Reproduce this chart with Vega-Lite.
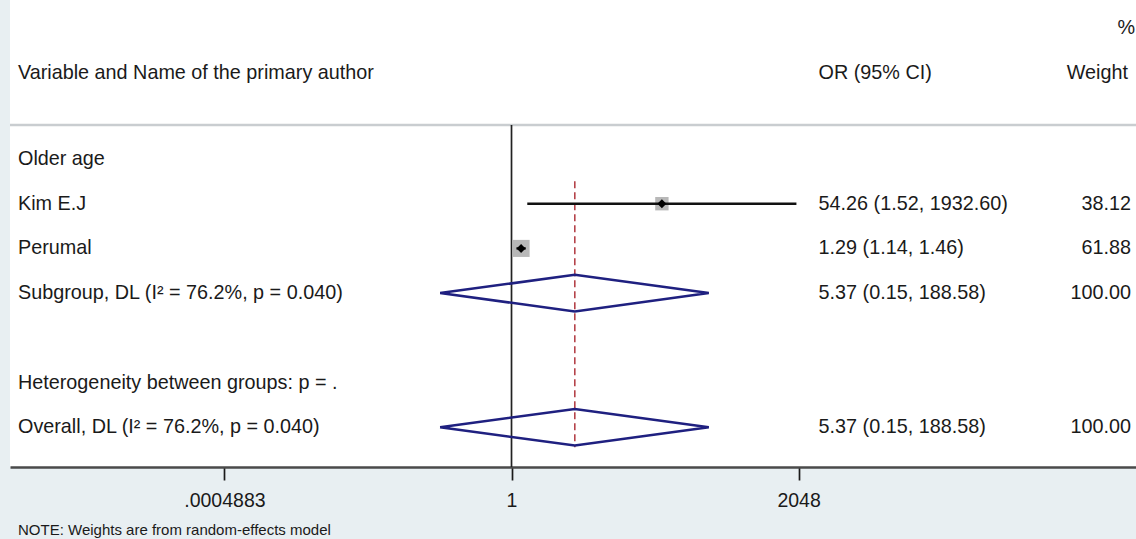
{
  "$schema": "https://vega.github.io/schema/vega-lite/v6.json",
  "width": 1126,
  "height": 467,
  "autosize": {"type": "none"},
  "padding": {"left": 10, "top": 0, "right": 0, "bottom": 72},
  "background": "#e8eff2",
  "config": {
    "view": {"fill": "white", "stroke": null},
    "font": "Liberation Sans",
    "text": {"font": "Liberation Sans", "fontSize": 19.8, "color": "#1a1a1a", "baseline": "middle"}
  },
  "title": {
    "text": "NOTE: Weights are from random-effects model",
    "orient": "bottom",
    "anchor": "start",
    "frame": "group",
    "font": "Liberation Sans",
    "fontSize": 15,
    "fontWeight": "normal",
    "color": "#1a1a1a",
    "dx": 8,
    "offset": 13
  },
  "datasets": {
    "rows": [
      {"row": 1, "label": "Older age"},
      {"row": 2, "label": "Kim E.J", "kind": "study", "or": 54.26, "lo": 1.52, "hi": 1932.60, "ci": "54.26 (1.52, 1932.60)", "weight": 38.12, "wtext": "38.12"},
      {"row": 3, "label": "Perumal", "kind": "study", "or": 1.29, "lo": 1.14, "hi": 1.46, "ci": "1.29 (1.14, 1.46)", "weight": 61.88, "wtext": "61.88"},
      {"row": 4, "label": "Subgroup, DL (I² = 76.2%, p = 0.040)", "kind": "subgroup", "or": 5.37, "lo": 0.15, "hi": 188.58, "ci": "5.37 (0.15, 188.58)", "weight": 100, "wtext": "100.00"},
      {"row": 6, "label": "Heterogeneity between groups: p = ."},
      {"row": 7, "label": "Overall, DL (I² = 76.2%, p = 0.040)", "kind": "overall", "or": 5.37, "lo": 0.15, "hi": 188.58, "ci": "5.37 (0.15, 188.58)", "weight": 100, "wtext": "100.00"}
    ],
    "header": [
      {"row": -1, "col": "label", "text": "Variable and Name of the primary author"},
      {"row": -1, "col": "ci", "text": "OR (95% CI)"},
      {"row": -1, "col": "weight", "text": "Weight"},
      {"row": -2, "col": "pct", "text": "%"}
    ],
    "diamonds": [
      {"grp": "Subgroup", "ord": 1, "x": 0.15, "row": 4},
      {"grp": "Subgroup", "ord": 2, "x": 5.37, "row": 3.59},
      {"grp": "Subgroup", "ord": 3, "x": 188.58, "row": 4},
      {"grp": "Subgroup", "ord": 4, "x": 5.37, "row": 4.41},
      {"grp": "Subgroup", "ord": 5, "x": 0.15, "row": 4},
      {"grp": "Overall", "ord": 1, "x": 0.15, "row": 7},
      {"grp": "Overall", "ord": 2, "x": 5.37, "row": 6.59},
      {"grp": "Overall", "ord": 3, "x": 188.58, "row": 7},
      {"grp": "Overall", "ord": 4, "x": 5.37, "row": 7.41},
      {"grp": "Overall", "ord": 5, "x": 0.15, "row": 7}
    ]
  },
  "layer": [
    {
      "data": {"values": [{}]},
      "mark": {"type": "rule", "stroke": "#c9cdd0", "strokeWidth": 2.5},
      "encoding": {
        "y": {"datum": 0.24, "type": "quantitative", "scale": {"domain": [-2.557, 7.89], "reverse": true, "zero": false, "nice": false}, "axis": null}
      }
    },
    {
      "data": {"values": [{}]},
      "mark": {"type": "rule", "stroke": "#222222", "strokeWidth": 1.7},
      "encoding": {
        "x": {
          "datum": 1,
          "type": "quantitative",
          "scale": {"type": "log", "base": 2, "domain": [1.6431e-6, 1.595e7], "nice": false},
          "axis": {
            "values": [0.00048828125, 1, 2048],
            "labelExpr": "replace(format(datum.value, '.7~f'), '0.', '.')",
            "title": null,
            "grid": false,
            "domainColor": "#4a4a4a",
            "domainWidth": 2.5,
            "tickColor": "#1a1a1a",
            "tickWidth": 1.7,
            "tickSize": 13,
            "labelFont": "Liberation Sans",
            "labelFontSize": 19.5,
            "labelColor": "#1a1a1a",
            "labelPadding": 11,
            "labelFlush": false,
            "labelOverlap": false
          }
        },
        "y": {"datum": 0.24, "type": "quantitative"},
        "y2": {"datum": 7.89}
      }
    },
    {
      "data": {"name": "rows"},
      "transform": [{"filter": "datum.kind === 'overall'"}],
      "mark": {"type": "rule", "stroke": "#b5434a", "strokeWidth": 1.6, "strokeDash": [7, 4]},
      "encoding": {
        "x": {"field": "or", "type": "quantitative"},
        "y": {"datum": 1.5, "type": "quantitative"},
        "y2": {"datum": 7.45}
      }
    },
    {
      "data": {"name": "rows"},
      "transform": [{"filter": "datum.kind === 'study'"}],
      "mark": {"type": "point", "shape": "square", "filled": true, "color": "#b8b8b8", "opacity": 1},
      "encoding": {
        "x": {"field": "or", "type": "quantitative"},
        "y": {"field": "row", "type": "quantitative"},
        "size": {"field": "weight", "type": "quantitative", "scale": {"domain": [0, 100], "range": [0, 470]}, "legend": null}
      }
    },
    {
      "data": {"name": "rows"},
      "transform": [{"filter": "datum.kind === 'study'"}],
      "mark": {"type": "rule", "stroke": "#111111", "strokeWidth": 2.4},
      "encoding": {
        "x": {"field": "lo", "type": "quantitative"},
        "x2": {"field": "hi"},
        "y": {"field": "row", "type": "quantitative"}
      }
    },
    {
      "data": {"name": "rows"},
      "transform": [{"filter": "datum.kind === 'study'"}],
      "mark": {"type": "point", "shape": "diamond", "filled": true, "color": "#000000", "size": 80, "opacity": 1},
      "encoding": {
        "x": {"field": "or", "type": "quantitative"},
        "y": {"field": "row", "type": "quantitative"}
      }
    },
    {
      "data": {"name": "diamonds"},
      "mark": {"type": "line", "stroke": "#1f2080", "strokeWidth": 2.5},
      "encoding": {
        "x": {"field": "x", "type": "quantitative"},
        "y": {"field": "row", "type": "quantitative"},
        "detail": {"field": "grp"},
        "order": {"field": "ord", "type": "quantitative"}
      }
    },
    {
      "data": {"name": "rows"},
      "mark": {"type": "text", "align": "left", "dx": 8},
      "encoding": {
        "x": {"datum": 1.6431e-6, "type": "quantitative"},
        "y": {"field": "row", "type": "quantitative"},
        "text": {"field": "label"}
      }
    },
    {
      "data": {"name": "rows"},
      "transform": [{"filter": "isValid(datum.ci)"}],
      "mark": {"type": "text", "align": "left", "dx": 20},
      "encoding": {
        "x": {"datum": 2048, "type": "quantitative"},
        "y": {"field": "row", "type": "quantitative"},
        "text": {"field": "ci"}
      }
    },
    {
      "data": {"name": "rows"},
      "transform": [{"filter": "isValid(datum.wtext)"}],
      "mark": {"type": "text", "align": "right", "dx": -5},
      "encoding": {
        "x": {"datum": 1.595e7, "type": "quantitative"},
        "y": {"field": "row", "type": "quantitative"},
        "text": {"field": "wtext"}
      }
    },
    {
      "data": {"name": "header"},
      "transform": [{"filter": "datum.col === 'label'"}],
      "mark": {"type": "text", "align": "left", "dx": 8, "dy": 3},
      "encoding": {
        "x": {"datum": 1.6431e-6, "type": "quantitative"},
        "y": {"field": "row", "type": "quantitative"},
        "text": {"field": "text"}
      }
    },
    {
      "data": {"name": "header"},
      "transform": [{"filter": "datum.col === 'ci'"}],
      "mark": {"type": "text", "align": "left", "dx": 20, "dy": 3},
      "encoding": {
        "x": {"datum": 2048, "type": "quantitative"},
        "y": {"field": "row", "type": "quantitative"},
        "text": {"field": "text"}
      }
    },
    {
      "data": {"name": "header"},
      "transform": [{"filter": "datum.col === 'weight'"}],
      "mark": {"type": "text", "align": "right", "dx": -8, "dy": 3},
      "encoding": {
        "x": {"datum": 1.595e7, "type": "quantitative"},
        "y": {"field": "row", "type": "quantitative"},
        "text": {"field": "text"}
      }
    },
    {
      "data": {"name": "header"},
      "transform": [{"filter": "datum.col === 'pct'"}],
      "mark": {"type": "text", "align": "right", "dx": -1, "dy": 3},
      "encoding": {
        "x": {"datum": 1.595e7, "type": "quantitative"},
        "y": {"field": "row", "type": "quantitative"},
        "text": {"field": "text"}
      }
    }
  ]
}
